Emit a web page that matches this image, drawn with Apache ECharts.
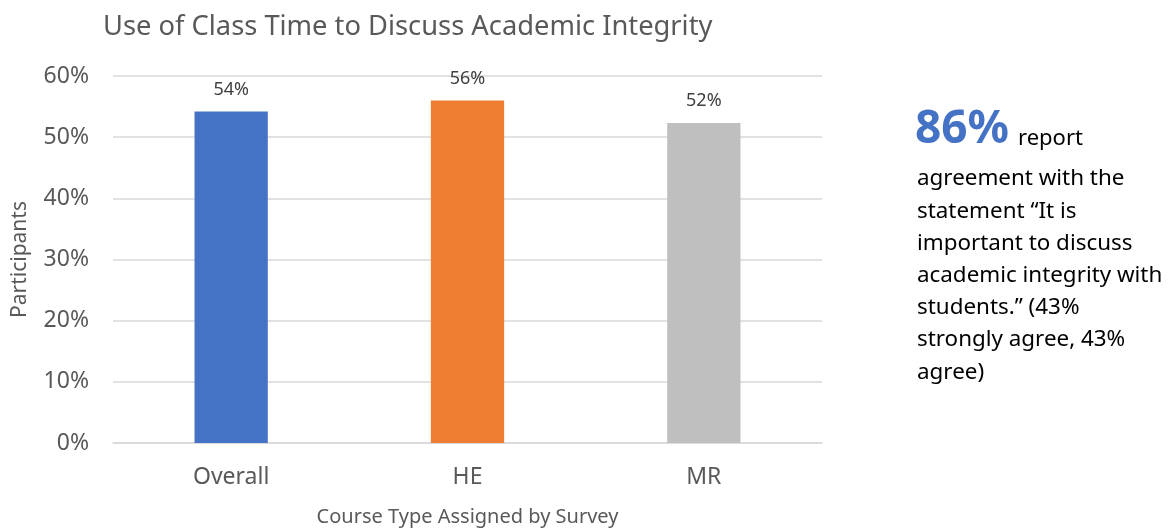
<!DOCTYPE html>
<html>
<head>
<meta charset="utf-8">
<script src="https://cdn.jsdelivr.net/npm/echarts@6/dist/echarts.min.js"></script>
<style>
  html, body { margin: 0; padding: 0; background: #fff; }
  #chart { width: 1175px; height: 529px; }
</style>
</head>
<body>
<div id="chart"></div>
<script>
// data
const categories = ['Overall', 'HE', 'MR'];
const values = [54.2, 56.0, 52.3];
const labels = ['54%', '56%', '52%'];
const barColors = ['#4472C4', '#ED7D31', '#BFBFBF'];

const FONT = '"Noto Sans", "Open Sans", sans-serif';
const grey = '#595959';

const noteLines = [
  'agreement with the',
  'statement \u201cIt is',
  'important to discuss',
  'academic integrity with',
  'students.\u201d (43%',
  'strongly agree, 43%',
  'agree)'
];

const chart = echarts.init(document.getElementById('chart'));
chart.setOption({
  animation: false,
  textStyle: {fontFamily: FONT},
  title: {
    text: 'Use of Class Time to Discuss Academic Integrity',
    left: 98,
    top: 9,
    textStyle: {fontFamily: FONT, fontSize: 27.3, fontWeight: 'normal', color: grey}
  },
  grid: {left: 113, right: 353, top: 76, bottom: 86, outerBoundsMode: 'none'},
  xAxis: {
    type: 'category',
    data: categories,
    name: 'Course Type Assigned by Survey',
    nameLocation: 'middle',
    nameGap: 64,
    nameTextStyle: {fontFamily: FONT, fontSize: 20, color: grey},
    axisTick: {show: false},
    axisLine: {lineStyle: {color: '#D9D9D9', width: 1.5}},
    axisLabel: {fontFamily: FONT, fontSize: 23, color: grey, margin: 23}
  },
  yAxis: {
    type: 'value',
    min: 0,
    max: 60,
    interval: 10,
    name: 'Participants',
    nameLocation: 'middle',
    nameGap: 82,
    nameTextStyle: {fontFamily: FONT, fontSize: 21, color: grey},
    axisLabel: {fontFamily: FONT, fontSize: 23, color: grey, margin: 24, formatter: '{value}%'},
    splitLine: {lineStyle: {color: '#D9D9D9', width: 1.5}}
  },
  series: [{
    type: 'bar',
    barWidth: '31%',
    data: values.map((v, i) => ({value: v, itemStyle: {color: barColors[i]}})),
    label: {
      show: true,
      position: 'top',
      distance: 13,
      fontFamily: FONT,
      fontSize: 18,
      color: '#404040',
      formatter: p => labels[p.dataIndex]
    }
  }],
  graphic: [
    {
      type: 'text',
      left: 915,
      top: 107,
      style: {text: '86%', font: 'bold 46px ' + FONT, fill: '#4472C4'}
    },
    {
      type: 'text',
      left: 1018,
      top: 128,
      style: {text: 'report', font: '22px ' + FONT, fill: '#000'}
    },
    {
      type: 'text',
      left: 917,
      top: 163,
      style: {text: noteLines.join('\n'), font: '22.4px ' + FONT, lineHeight: 32.2, fill: '#000'}
    }
  ]
});
</script>
</body>
</html>
